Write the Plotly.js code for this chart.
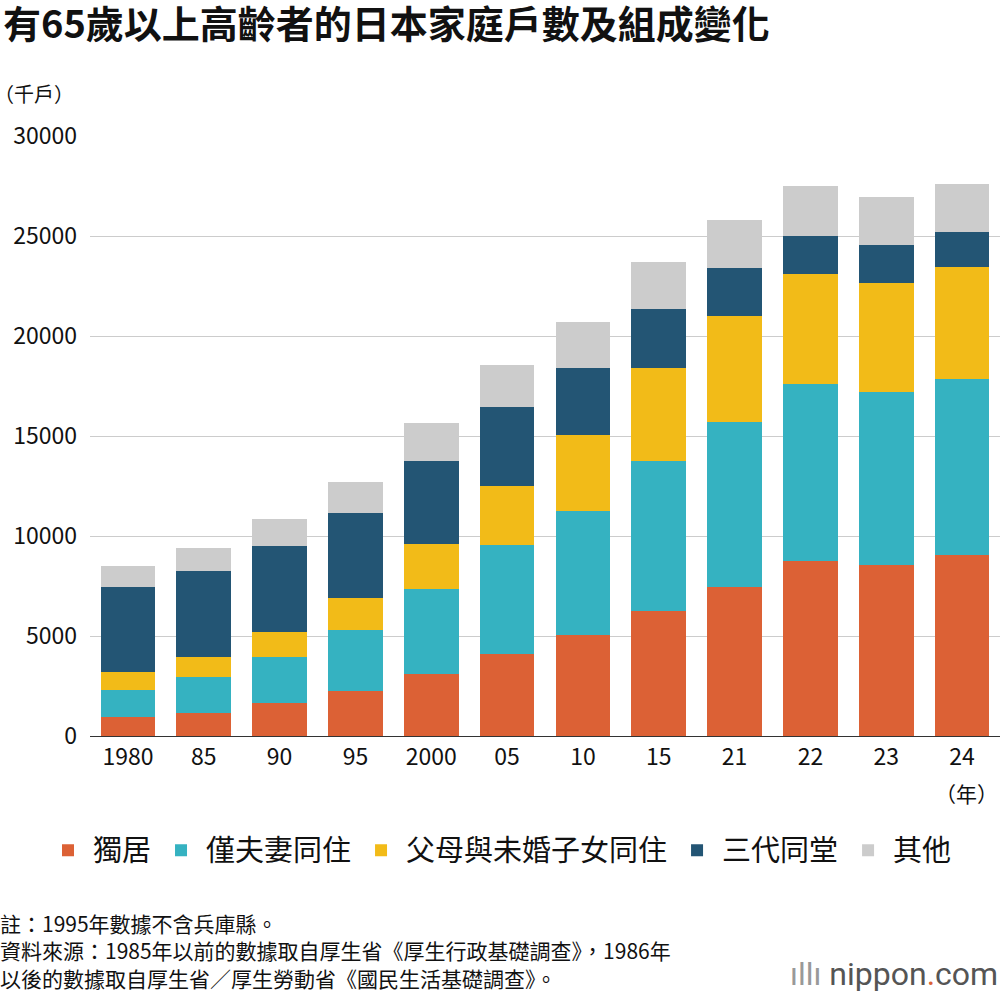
<!DOCTYPE html>
<html><head><meta charset="utf-8">
<script src="https://cdn.plot.ly/plotly-3.0.1.min.js"></script>
<style>body{margin:0;background:#fff}#chart{width:1000px;height:998px}</style>
</head><body><div id="chart"></div>
<script>
const years = ['1980','85','90','95','2000','05','10','15','21','22','23','24'];
const solo = [950,1150,1650,2250,3100,4100,5050,6250,7450,8750,8550,9050];
const couple = [1350,1800,2300,3050,4250,5450,6200,7500,8250,8850,8650,8800];
const parentChild = [900,1000,1250,1600,2250,2950,3800,4650,5300,5500,5450,5600];
const threeGen = [4250,4300,4300,4250,4150,3950,3350,2950,2400,1900,1900,1750];
const other = [1050,1150,1350,1550,1900,2100,2300,2350,2400,2500,2400,2400];

const series = [
  ['獨居', solo, '#dc6135'],
  ['僅夫妻同住', couple, '#35b2c1'],
  ['父母與未婚子女同住', parentChild, '#f2bb18'],
  ['三代同堂', threeGen, '#235574'],
  ['其他', other, '#cccccc']
];
const traces = series.map(([name, y, color]) => ({
  type: 'bar', name, x: years, y, marker: {color}, hoverinfo: 'y+name'
}));
const F = '"Noto Sans CJK TC", "Noto Sans", sans-serif';
const layout = {
  width: 1000, height: 998, barmode: 'stack', bargap: 0.28,
  paper_bgcolor: '#fff', plot_bgcolor: '#fff',
  margin: {l: 90, r: 0, t: 136, b: 262},
  font: {family: F, size: 22, color: '#111'},
  xaxis: {type: 'category', ticks: '', showline: true, linecolor: '#333', tickfont: {size: 23}},
  yaxis: {range: [0, 30000], dtick: 5000, tickformat: 'd', gridcolor: '#cccccc', zeroline: false,
    ticks: '', tickfont: {size: 23}, ticklabelstandoff: 12},
  showlegend: true,
  legend: {orientation: 'h', x: 0.5, xanchor: 'center', xref: 'container', y: 0.148, yref: 'container',
    yanchor: 'middle', font: {size: 29}, traceorder: 'normal', itemwidth: 40},
  title: {text: '<b>有65歲以上高齡者的日本家庭戶數及組成變化</b>', x: 0.003, xanchor: 'left', y: 0.975, yanchor: 'middle',
    font: {size: 38, family: F, color: '#111'}},
  annotations: [
    {text: '（千戶）', xref: 'paper', yref: 'paper', x: 0, y: 1, xshift: -98, yshift: 26, showarrow: false, xanchor: 'left', yanchor: 'bottom', font: {size: 20}},
    {text: '（年）', xref: 'paper', yref: 'paper', x: 1, y: 0, yshift: -40, showarrow: false, xanchor: 'right', yanchor: 'top', font: {size: 21}},
    {text: '註：1995年數據不含兵庫縣。<br>資料來源：1985年以前的數據取自厚生省《厚生行政基礎調查》，1986年<br>以後的數據取自厚生省／厚生勞動省《國民生活基礎調查》。',
      xref: 'paper', yref: 'paper', x: 0, xshift: -92, y: 0, yshift: -170, yanchor: 'top', xanchor: 'left', align: 'left',
      showarrow: false, font: {size: 21}},
    {text: '<span style="color:#999">ıllı </span>nippon<span style="color:#dc6135">.</span>com', xref: 'paper', yref: 'paper', x: 1, y: 0, yshift: -238,
      xanchor: 'right', yanchor: 'middle', showarrow: false, font: {size: 32, color: '#555', family: 'Roboto, sans-serif'}}
  ]
};
Plotly.newPlot('chart', traces, layout, {displayModeBar: false});
</script></body></html>
